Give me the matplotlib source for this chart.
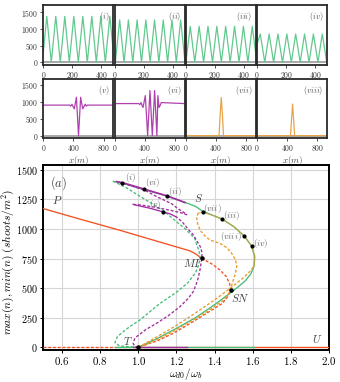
import matplotlib
matplotlib.use("Agg")
import matplotlib.pyplot as plt

plt.rcParams['mathtext.fontset'] = 'cm'
plt.rcParams['font.family'] = ['DejaVu Serif']

# ---------------- colours ----------------
GREEN = '#45bd78'
PURPLE = '#a22ca0'
ORANGE = '#eb9a2c'
RED = '#f4511e'
PGREEN = '#62c98e'
PPURPLE = '#b040b0'
PORANGE = '#e9a44a'

# ---------------- small panel profiles ----------------
# periodic profiles (i)-(iv): extrema (x in m, n in shoots/m^2)
prof_i_x = [0, 24, 55, 86, 117, 148, 179, 210, 241, 272, 303, 334, 365, 396, 427, 458, 489]
prof_i_n = [300, 1380, 0, 1380, 0, 1380, 0, 1380, 0, 1380, 0, 1380, 0, 1380, 0, 1380, 0]
prof_ii_x = [0, 5, 35, 65, 95, 125, 155, 185, 215, 245, 275, 305, 335, 365, 395, 425, 455, 485]
prof_ii_n = [80, 0, 1270, 0, 1270, 0, 1270, 0, 1270, 0, 1270, 0, 1270, 0, 1270, 0, 1270, 0]
prof_iii_x = [0, 30, 61, 91, 122, 152, 183, 213, 244, 274, 305, 335, 366, 396, 427, 457, 488]
prof_iii_n = [0, 1080, 0, 1080, 0, 1080, 0, 1080, 0, 1080, 0, 1080, 0, 1080, 0, 1080, 0]
prof_iv_x = [0, 21, 52, 82, 113, 143, 174, 204, 235, 265, 296, 326, 357, 387, 418, 448, 479]
prof_iv_n = [560, 850, 0, 850, 0, 850, 0, 850, 0, 850, 0, 850, 0, 850, 0, 850, 0]
# localized profiles (v)-(viii)
prof_v_x = [0, 350, 365, 380, 395, 412, 440, 468, 496, 524, 541, 556, 571, 586, 930]
prof_v_n = [900, 900, 870, 925, 860, 790, 1130, 0, 1130, 790, 860, 925, 870, 900, 900]
prof_vi_x = [0, 320, 335, 350, 365, 378, 408, 439, 470, 501, 532, 562, 575, 590, 605, 620, 930]
prof_vi_n = [945, 945, 915, 975, 890, 830, 1180, 0, 1330, 0, 1330, 0, 1180, 830, 890, 975, 945]
prof_vii_x = [0, 440, 456, 470, 484, 500, 930]
prof_vii_n = [0, 0, 650, 1125, 650, 0, 0]
prof_viii_x = [0, 443, 458, 470, 482, 497, 930]
prof_viii_n = [0, 0, 540, 930, 540, 0, 0]

panel_labels = ['(i)', '(ii)', '(iii)', '(iv)', '(v)', '(vi)', '(vii)', '(viii)']
top_xticks = [0, 200, 400]
bot_xticks = [0, 400, 800]
small_yticks = [0, 500, 1000, 1500]

# ---------------- main bifurcation diagram ----------------
# homogeneous branch P (stable, solid) down to MI
P_solid_w = [0.5, 0.7, 0.9, 1.1, 1.2, 1.27, 1.3, 1.332]
P_solid_n = [1172, 1080, 990, 895, 848, 815, 790, 752]
# unstable part MI -> SN -> back to T
P_dash_w = [1.332, 1.39, 1.428, 1.46, 1.478, 1.484, 1.47, 1.44, 1.358, 1.25, 1.183, 1.1, 1.009, 1.0]
P_dash_n = [752, 700, 653, 600, 540, 484, 430, 370, 287, 180, 118, 55, 5, 0]
# trivial state U
U_dash_w = [0.5, 1.0]
U_solid_w = [1.0, 2.0]
U_n = [0, 0]

# periodic branch (green)
G_dash_w = [1.0, 0.95, 0.9, 0.877, 0.89, 0.921, 0.96, 1.009, 1.06, 1.114, 1.2, 1.26, 1.3, 1.318,
            1.323, 1.318, 1.306, 1.297, 1.245, 1.19, 1.14, 1.07, 1.0, 0.94, 0.869]
G_dash_n = [2, 5, 12, 40, 90, 132, 180, 231, 300, 371, 465, 545, 630, 700,
            765, 820, 864, 917, 1002, 1075, 1143, 1215, 1284, 1345, 1402]
G_solid_w = [0.869, 0.913, 1.0, 1.08, 1.149, 1.25, 1.30, 1.337, 1.39, 1.44, 1.50, 1.556, 1.594,
             1.61, 1.608, 1.59, 1.56, 1.5, 1.4, 1.3, 1.2, 1.1, 1.0]
G_solid_n = [1402, 1388, 1346, 1310, 1278, 1222, 1190, 1150, 1115, 1083, 1020, 940, 855,
             770, 690, 620, 560, 480, 360, 250, 160, 75, 0]
G_min_w = [0.877, 1.608]
G_min_n = [0, 0]

# localized snaking branch (purple)
V_dash1_w = [1.0, 0.985, 0.973, 0.98, 0.991, 1.04, 1.096, 1.16, 1.218, 1.26, 1.288, 1.31, 1.323,
             1.332, 1.334, 1.325, 1.31, 1.288, 1.26, 1.23, 1.2]
V_dash1_n = [0, 5, 30, 70, 90, 150, 203, 270, 343, 410, 470, 560, 650,
             740, 800, 850, 890, 950, 1000, 1060, 1100]
V_solid1_w = [1.2, 1.17, 1.131, 1.06, 0.99, 0.973]
V_solid1_n = [1100, 1125, 1143, 1175, 1200, 1207]
V_dash2_w = [0.973, 1.0, 1.08, 1.16, 1.22, 1.254, 1.245, 1.2, 1.175, 1.1, 1.035, 0.96, 0.886]
V_dash2_n = [1207, 1205, 1185, 1160, 1138, 1120, 1132, 1180, 1213, 1270, 1326, 1365, 1400]
V_solid2_w = [0.886, 0.93, 1.03, 1.1, 1.149, 1.2, 1.245]
V_solid2_n = [1400, 1385, 1337, 1303, 1280, 1250, 1222]
V_min_w = [0.973, 1.254]
V_min_n = [0, 0]

# single pulse branch (orange)
O_dash1_w = [1.0, 1.1, 1.2, 1.3, 1.4, 1.5, 1.56, 1.59, 1.608]
O_dash1_n = [0, 90, 185, 290, 400, 520, 600, 650, 690]
O_solid_w = [1.608, 1.61, 1.594, 1.556, 1.50, 1.44, 1.39, 1.337, 1.315]
O_solid_n = [690, 770, 855, 940, 1020, 1083, 1115, 1140, 1135]
O_dash2_w = [1.315, 1.306, 1.31, 1.323, 1.35, 1.376, 1.428, 1.465, 1.489, 1.51, 1.516, 1.508,
             1.498, 1.485, 1.47, 1.44, 1.35, 1.25, 1.15, 1.05, 1.0]
O_dash2_n = [1135, 1103, 1050, 991, 940, 906, 878, 840, 794, 740, 681, 620,
             568, 500, 440, 390, 290, 195, 105, 30, 0]

# marked points
pt_names = ['(i)', '(vi)', '(ii)', '(v)', '(vii)', '(iii)', '(viii)', '(iv)']
pt_w = [0.913, 1.03, 1.149, 1.131, 1.337, 1.44, 1.556, 1.594]
pt_n = [1388, 1337, 1278, 1143, 1140, 1083, 940, 855]
pt_lab_w = [0.957, 1.078, 1.192, 1.087, 1.388, 1.489, 1.486, 1.642]
pt_lab_n = [1434, 1393, 1320, 1208, 1174, 1112, 934, 878]
special_w = [1.332, 1.484, 1.0]
special_n = [752, 484, 0]
tag_names = ['P', 'S', 'MI', 'SN', 'T', 'U']
tag_w = [0.572, 1.318, 1.28, 1.537, 0.947, 1.938]
tag_n = [1244, 1258, 710, 414, 56, 68]

main_xticks = [0.6, 0.8, 1.0, 1.2, 1.4, 1.6, 1.8, 2.0]
main_xticklabels = ['0.6', '0.8', '1.0', '1.2', '1.4', '1.6', '1.8', '2.0']
main_yticks = [0, 250, 500, 750, 1000, 1250, 1500]
main_yticklabels = ['0', '250', '500', '750', '1000', '1250', '1500']

# ---------------- figure ----------------
W, H = 340, 382
fig = plt.figure(figsize=(W / 100, H / 100), dpi=100)

def fx(px):
    return px / W

def fy(py):
    return 1 - py / H

panel_lefts = [43.3, 114.6, 185.9, 257.2]
panel_w = 70.0
profiles = [(prof_i_x, prof_i_n, PGREEN), (prof_ii_x, prof_ii_n, PGREEN),
            (prof_iii_x, prof_iii_n, PGREEN), (prof_iv_x, prof_iv_n, PGREEN),
            (prof_v_x, prof_v_n, PPURPLE), (prof_vi_x, prof_vi_n, PPURPLE),
            (prof_vii_x, prof_vii_n, PORANGE), (prof_viii_x, prof_viii_n, PORANGE)]

for k in range(8):
    row, col = divmod(k, 4)
    if row == 0:
        top, bot = 5, 65
        xlim = (0, 482)
        ylim = (-80, 1720)
        xt = top_xticks
    else:
        top, bot = 79, 138
        xlim = (0, 930)
        ylim = (-70, 1670)
        xt = bot_xticks
    ax = fig.add_axes([fx(panel_lefts[col]), fy(bot), fx(panel_w), (bot - top) / H])
    xs, ns, c = profiles[k]
    ax.axhline(0, color='#9a9a9a', lw=1.2, zorder=1)
    ax.plot(xs, ns, color=c, lw=0.9, zorder=2)
    ax.set_xlim(*xlim)
    ax.set_ylim(*ylim)
    ax.set_xticks(xt)
    ax.set_xticklabels(['$%d$' % v for v in xt], fontsize=5.5, color='#333')
    if col == 0:
        ax.set_yticks(small_yticks)
        ax.set_yticklabels(['$%d$' % v for v in small_yticks], fontsize=5.5, color='#333')
    else:
        ax.set_yticks([])
    ax.tick_params(length=2, width=0.6, pad=1.5, color='#333')
    for s in ax.spines.values():
        s.set_linewidth(1.3)
        s.set_color('#2a2a2a')
    ax.text(0.95, 0.92, '$%s$' % panel_labels[k], transform=ax.transAxes, ha='right', va='top',
            fontsize=6, color='#555')
    if row == 1:
        ax.set_xlabel('$x(m)$', fontsize=6.5, color='#444', labelpad=0.5)

# main axes
ax = fig.add_axes([fx(43), fy(350), fx(329 - 43), (350 - 165) / H])
ax.set_xlim(0.5, 2.0)
ax.set_ylim(-23, 1540)
ax.set_xticks(main_xticks)
ax.set_xticklabels(['$%s$' % t for t in main_xticklabels], fontsize=7.8)
ax.set_yticks(main_yticks)
ax.set_yticklabels(['$%s$' % t for t in main_yticklabels], fontsize=7.3)
ax.grid(True, color='#d6d6d6', lw=0.8, zorder=0)
ax.tick_params(length=2.5, width=0.7, pad=1.2)
for s in ax.spines.values():
    s.set_linewidth(1.4)
    s.set_color('black')

dash = (0, (2.2, 1.4))
lw = 0.95
# U
ax.plot(U_dash_w, U_n, color=RED, lw=lw, ls=dash, zorder=3)
ax.plot(U_solid_w, U_n, color=RED, lw=lw, zorder=3)
# P
ax.plot(P_solid_w, P_solid_n, color=RED, lw=lw, zorder=3)
ax.plot(P_dash_w, P_dash_n, color=RED, lw=lw, ls=dash, zorder=3)
# green
ax.plot(G_dash_w, G_dash_n, color=GREEN, lw=lw, ls=dash, zorder=4)
ax.plot(G_solid_w, G_solid_n, color=GREEN, lw=lw, zorder=4)
ax.plot(G_min_w, G_min_n, color=GREEN, lw=lw, zorder=4)
# orange
ax.plot(O_dash1_w, O_dash1_n, color=ORANGE, lw=lw, ls=dash, zorder=5)
ax.plot(O_solid_w, O_solid_n, color=ORANGE, lw=lw, alpha=0.6, zorder=5)
ax.plot(O_dash2_w, O_dash2_n, color=ORANGE, lw=lw, ls=dash, zorder=5)
# purple
ax.plot(V_dash1_w, V_dash1_n, color=PURPLE, lw=lw, ls=dash, zorder=6)
ax.plot(V_solid1_w, V_solid1_n, color=PURPLE, lw=lw, zorder=6)
ax.plot(V_dash2_w, V_dash2_n, color=PURPLE, lw=lw, ls=dash, zorder=6)
ax.plot(V_solid2_w, V_solid2_n, color=PURPLE, lw=1.2, zorder=6)
ax.plot(V_min_w, V_min_n, color=PURPLE, lw=lw, zorder=6)

ax.scatter(pt_w, pt_n, s=4, color='black', zorder=8)
ax.scatter(special_w, special_n, s=5, color='black', zorder=8)
for name, x, y in zip(pt_names, pt_lab_w, pt_lab_n):
    ax.text(x, y, '$%s$' % name, fontsize=6.5, color='#666', ha='center', va='center', zorder=9)
for name, x, y in zip(tag_names, tag_w, tag_n):
    ax.text(x, y, '$%s$' % name, fontsize=8, color='#444', ha='center', va='center', zorder=9)
ax.text(0.58, 1385, '$(a)$', fontsize=9, color='#444', ha='center', va='center')

fig.text(fx(186), fy(374), r'$\omega_{d0}/\omega_b$', fontsize=8, ha='center', va='center')
fig.text(fx(8.5), fy(262), r'$max(n), min(n)\ (shoots/m^2)$', fontsize=8.2, rotation=90,
         ha='center', va='center')

fig.savefig('out.png', dpi=100)
